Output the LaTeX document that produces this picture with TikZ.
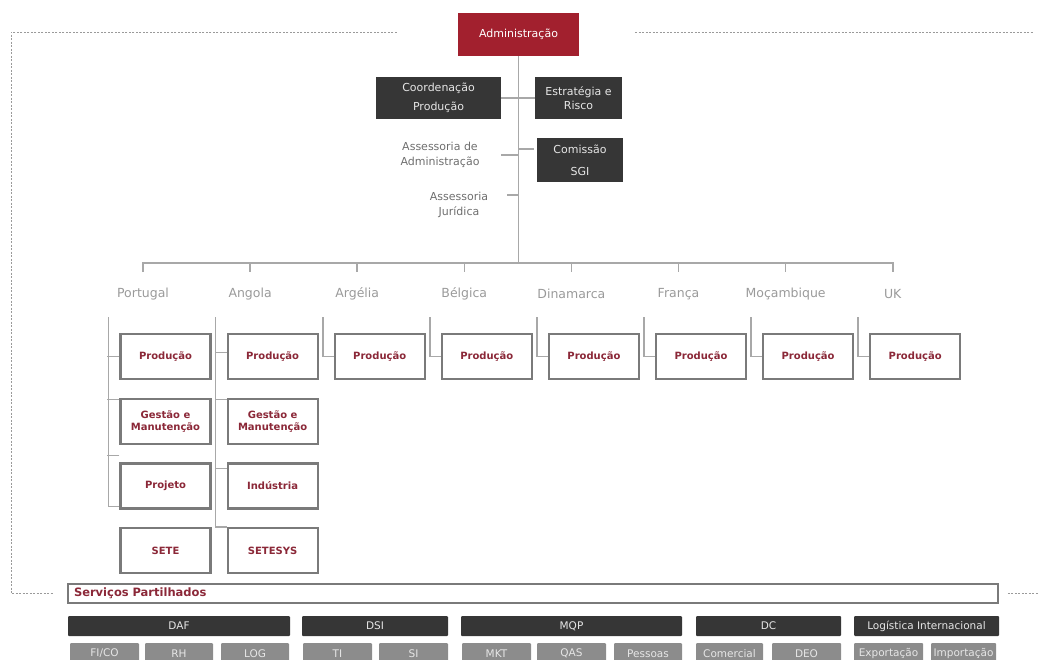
\documentclass[tikz,border=0pt]{standalone}
\usepackage{fontspec}
\setmainfont{DejaVu Sans}
\usetikzlibrary{positioning}

\definecolor{admred}{HTML}{A2202E}
\definecolor{boxdark}{HTML}{363636}
\definecolor{boxtext}{HTML}{E6E6E6}
\definecolor{linegray}{HTML}{A8A8A8}
\definecolor{framegray}{HTML}{9A9A9A}
\definecolor{unitgray}{HTML}{7A7A7A}
\definecolor{unitred}{HTML}{8B2838}
\definecolor{countrygray}{HTML}{9A9A9A}
\definecolor{notegray}{HTML}{6E6E6E}
\definecolor{subgray}{HTML}{8C8C8C}

\begin{document}
\begin{tikzpicture}[x=1pt,y=-1pt,
		font=\fontsize{11}{14}\selectfont,
		link/.style={draw=linegray, line width=1.6pt},
		frame/.style={draw=framegray, line width=0.7pt, dash pattern=on 2pt off 1.5pt},
		head/.style={fill=admred, text=white, minimum width=121pt, minimum height=43pt, inner sep=0pt},
		darkbox/.style={fill=boxdark, text=boxtext, align=center, inner sep=0pt},
		note/.style={text=notegray, align=center, inner sep=0pt, font=\fontsize{11}{14.5}\selectfont},
		country/.style={text=countrygray, inner sep=1pt, font=\fontsize{12.5}{14}\selectfont},
		unit/.style={draw=unitgray, line width=2.2pt, fill=white, text=unitred, align=center,
			inner sep=0pt, minimum width=90pt, minimum height=45pt, font=\fontsize{10}{12}\selectfont\bfseries},
		spbar/.style={draw=unitgray, line width=1.8pt, text=unitred, minimum width=930pt, minimum height=19pt,
			text width=918pt, align=left, inner xsep=6pt, inner ysep=0pt, font=\fontsize{11.5}{13}\selectfont\bfseries},
		dept/.style={fill=boxdark, text=boxtext, rounded corners=1pt, minimum height=20pt, inner sep=0pt,
			font=\fontsize{10.5}{12}\selectfont},
		sub/.style={fill=subgray, text=boxtext, rounded corners=1pt, minimum height=21pt, inner sep=0pt,
			font=\fontsize{10.5}{12}\selectfont},
		node distance=17.5pt,
	]
	\useasboundingbox (0,0) rectangle (1038,659);

	% board
	\node[head] (adm) at (518.5,34.5) {Administração};
	\node[darkbox, minimum width=125pt, minimum height=42pt, font=\fontsize{11}{19}\selectfont] (coord) at (438.5,98) {Coordenação\\Produção};
	\node[darkbox, minimum width=87pt, minimum height=42pt, font=\fontsize{11}{14}\selectfont] (estr) at (578.5,98) {Estratégia e\\Risco};
	\node[darkbox, minimum width=86pt, minimum height=44pt, font=\fontsize{11}{22}\selectfont] (com) at (580,160) {Comissão\\SGI};
	\node[note] (assAdm) at (440,155) {Assessoria de\\Administração};
	\node[note] (assJur) at (459,205) {Assessoria\\Jurídica};

	% spine
	\coordinate (bus) at (518.5,263);
	\draw[link] (adm.south) -- (bus);
	\draw[link] (coord.east) -- (estr.west);
	\draw[link] (adm.south |- com.west) ++(0,-11) -- ++(15,0);
	\draw[link] (adm.south |- assAdm.east) -- ++(-18,0);
	\draw[link] (adm.south |- assJur.east) ++(0,-10) -- ++(-12,0);

	% countries
	\foreach \cname [count=\i] in {Portugal,Angola,Argélia,Bélgica,Dinamarca,França,Moçambique,UK}{
		\pgfmathsetmacro\cx{143+107.1*(\i-1)}
		\node[country] (c\i) at (\cx,294) {\cname};
		\coordinate (v\i) at (\cx-34.5,317);
		\node[unit] (p\i) at (\cx+22.5,356.5) {Produção};
	}
	\draw[link] (c1.north |- bus) ++(0,9) -- ++(0,-9) -- (c8.north |- bus) -- ++(0,9);
	\foreach \i in {2,...,7} \draw[link] (c\i.north |- bus) -- ++(0,9);
	\foreach \i in {3,...,8} \draw[link] (v\i) |- (p\i.west);

	% Portugal
	\node[unit, below=of p1] (pGes) {Gestão e\\Manutenção};
	\node[unit, below=of pGes] (pPrj) {Projeto};
	\node[unit, below=of pPrj] (pSete) {SETE};
	\draw[link] (v1) |- ([yshift=3pt]pPrj.south west);
	\draw[link] (p1.west) -- ++(-12,0);
	\draw[link] ([yshift=-2pt]pGes.north west) -- ++(-12,0);
	\draw[link] ([yshift=7pt]pPrj.north west) -- ++(-12,0);

	% Angola
	\node[unit, below=of p2] (aGes) {Gestão e\\Manutenção};
	\node[unit, below=of aGes] (aInd) {Indústria};
	\node[unit, below=of aInd] (aSet) {SETESYS};
	\draw[link] (v2) |- (aSet.north west);
	\draw[link] ([yshift=4pt]p2.west) -- ++(-12,0);
	\draw[link] ([yshift=-2pt]aGes.north west) -- ++(-12,0);
	\draw[link] ([yshift=-6pt]aInd.north west) -- ++(-12,0);

	% shared services
	\node[spbar] (sp) at (533,593.5) {Serviços Partilhados};
	\coordinate (fl) at (11,0);
	\draw[frame] ([xshift=-61pt,yshift=2.5pt]adm.west) -- ([yshift=2.5pt]fl |- adm.west) -- (fl |- sp.west) -- ([xshift=-13pt]sp.west);
	\draw[frame] ([xshift=56pt,yshift=2.5pt]adm.east) -- ++(398,0);
	\draw[frame] ([xshift=9pt]sp.east) -- ++(40,0);

	\foreach \lbl/\xa/\xb [count=\i] in {DAF/68/290,DSI/302/448,MQP/461/682,DC/696/841,Logística Internacional/854/999}{
		\pgfmathsetmacro\w{\xb-\xa}
		\node[dept, minimum width=\w pt] (d\i) at ({(\xa+\xb)/2},626) {\lbl};
	}
	\foreach \lbl/\xa/\xb [count=\i] in {FI{/}CO/70/139,RH/145/213,LOG/221/289,TI/303/372,SI/379/448,MKT/462/531,
		QAS/537/606,Pessoas/614/682,Comercial/696/763,DEO/772/841,Exportação/854/923,Importação/931/996}{
		\pgfmathsetmacro\w{\xb-\xa}
		\node[sub, minimum width=\w pt] (s\i) at ({(\xa+\xb)/2},653.5) {\lbl};
	}
\end{tikzpicture}
\end{document}
